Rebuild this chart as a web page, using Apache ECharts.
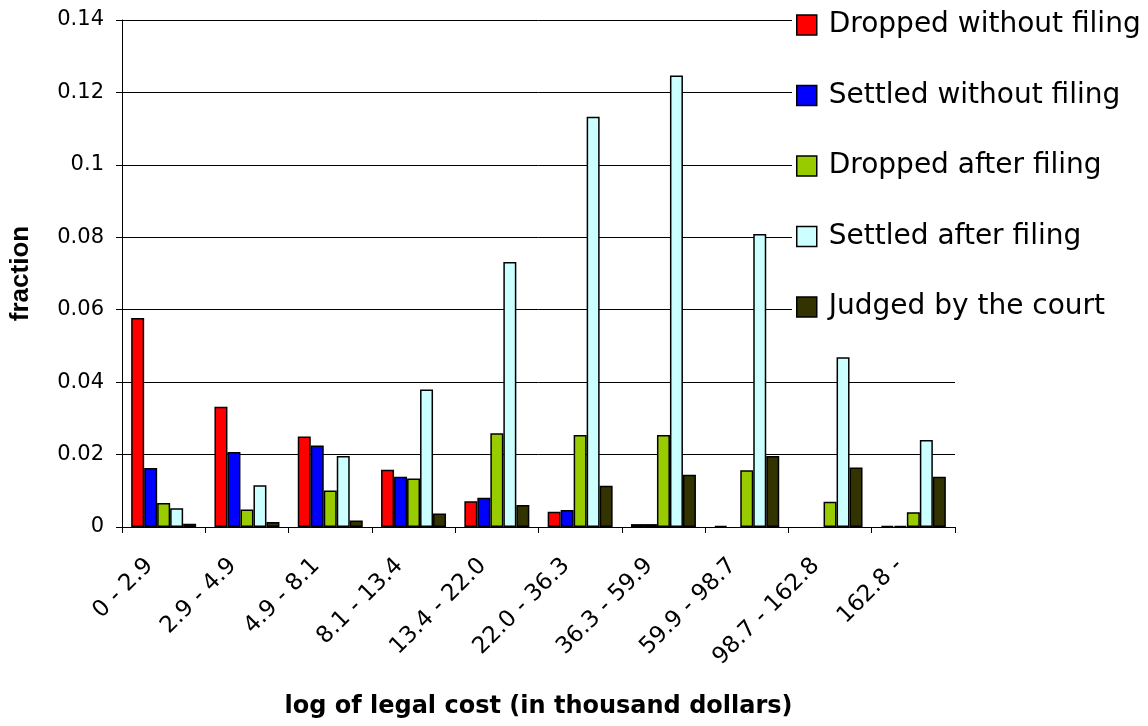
<!DOCTYPE html>
<html>
<head>
<meta charset="utf-8">
<script src="https://cdn.jsdelivr.net/npm/echarts@6/dist/echarts.min.js"></script>
<style>
html,body{margin:0;padding:0;background:#fff;}
#chart{width:1148px;height:726px;}
</style>
</head>
<body>
<div id="chart"></div>
<script>
var categories = ['0 - 2.9', '2.9 - 4.9', '4.9 - 8.1', '8.1 - 13.4', '13.4 - 22.0', '22.0 - 36.3', '36.3 - 59.9', '59.9 - 98.7', '98.7 - 162.8', '162.8 -'];
var seriesNames = ['Dropped without filing', 'Settled without filing', 'Dropped after filing', 'Settled after filing', 'Judged by the court'];
var droppedWithoutFiling = [0.0577, 0.0332, 0.0250, 0.0158, 0.0071, 0.0042, 0.0008, 0.0003, null, 0.0003];
var settledWithoutFiling = [0.0163, 0.0207, 0.0225, 0.0139, 0.0081, 0.0047, 0.0008, null, null, 0.0003];
var droppedAfterFiling = [0.0066, 0.0048, 0.0101, 0.0134, 0.0259, 0.0254, 0.0254, 0.0157, 0.0070, 0.0041];
var settledAfterFiling = [0.0052, 0.0115, 0.0196, 0.0380, 0.0732, 0.1133, 0.1247, 0.0809, 0.0469, 0.0240];
var judgedByCourt = [0.0009, 0.0014, 0.0018, 0.0037, 0.0061, 0.0114, 0.0144, 0.0196, 0.0164, 0.0139];
var yTicks = [0, 0.02, 0.04, 0.06, 0.08, 0.1, 0.12, 0.14];

var colors = ['#FF0000', '#0000FF', '#99CC00', '#CCFFFF', '#333300'];
var values = [droppedWithoutFiling, settledWithoutFiling, droppedAfterFiling, settledAfterFiling, judgedByCourt];

var chart = echarts.init(document.getElementById('chart'), null, {renderer: 'canvas'});
var series = seriesNames.map(function (name, i) {
  return {
    name: name,
    type: 'bar',
    data: values[i],
    barGap: '0%',
    barCategoryGap: '22%',
    itemStyle: {color: colors[i], borderColor: '#000', borderWidth: 1.5},
    emphasis: {disabled: true}
  };
});

chart.setOption({
  animation: false,
  backgroundColor: '#fff',
  color: colors,
  grid: {left: 122, right: 193, top: 20, bottom: 199, containLabel: false},
  legend: {
    orient: 'vertical',
    left: 792,
    top: 5,
    padding: [6, 8, 10, 4],
    backgroundColor: '#fff',
    itemWidth: 20,
    itemHeight: 20,
    itemGap: 42.5,
    icon: 'rect',
    z: 10,
    selectedMode: false,
    itemStyle: {borderColor: '#000', borderWidth: 1.5},
    textStyle: {fontFamily: 'DejaVu Sans', fontSize: 28, color: '#000', lineHeight: 28, padding: [0, 0, 0, 7]},
    data: seriesNames
  },
  xAxis: {
    type: 'category',
    data: categories,
    name: 'log of legal cost (in thousand dollars)',
    nameLocation: 'middle',
    nameGap: 168,
    nameTextStyle: {fontFamily: 'DejaVu Sans', fontWeight: 'bold', fontSize: 24, color: '#000'},
    axisLine: {lineStyle: {color: '#000', width: 1}},
    axisTick: {show: true, alignWithLabel: false, length: 6, lineStyle: {color: '#000'}},
    axisLabel: {
      interval: 0,
      rotate: 45,
      margin: 21,
      padding: [0, 20, 0, 0],
      fontFamily: 'DejaVu Sans',
      fontSize: 23,
      color: '#000'
    },
    splitLine: {show: false}
  },
  yAxis: {
    type: 'value',
    min: 0,
    max: 0.14,
    interval: 0.02,
    name: 'fraction',
    nameLocation: 'middle',
    nameGap: 88,
    nameTextStyle: {fontFamily: 'Liberation Sans', fontWeight: 'bold', fontSize: 26, color: '#000'},
    axisLine: {show: true, lineStyle: {color: '#000', width: 1}},
    axisTick: {show: true, length: 6, lineStyle: {color: '#000'}},
    axisLabel: {
      margin: 18,
      fontFamily: 'DejaVu Sans',
      fontSize: 21,
      color: '#000',
      formatter: function (v) {
        var idx = yTicks.findIndex(function (t) { return Math.abs(t - v) < 1e-9; });
        return idx >= 0 ? String(yTicks[idx]) : '';
      }
    },
    splitLine: {show: true, lineStyle: {color: '#000', width: 1}}
  },
  series: series
});
</script>
</body>
</html>
